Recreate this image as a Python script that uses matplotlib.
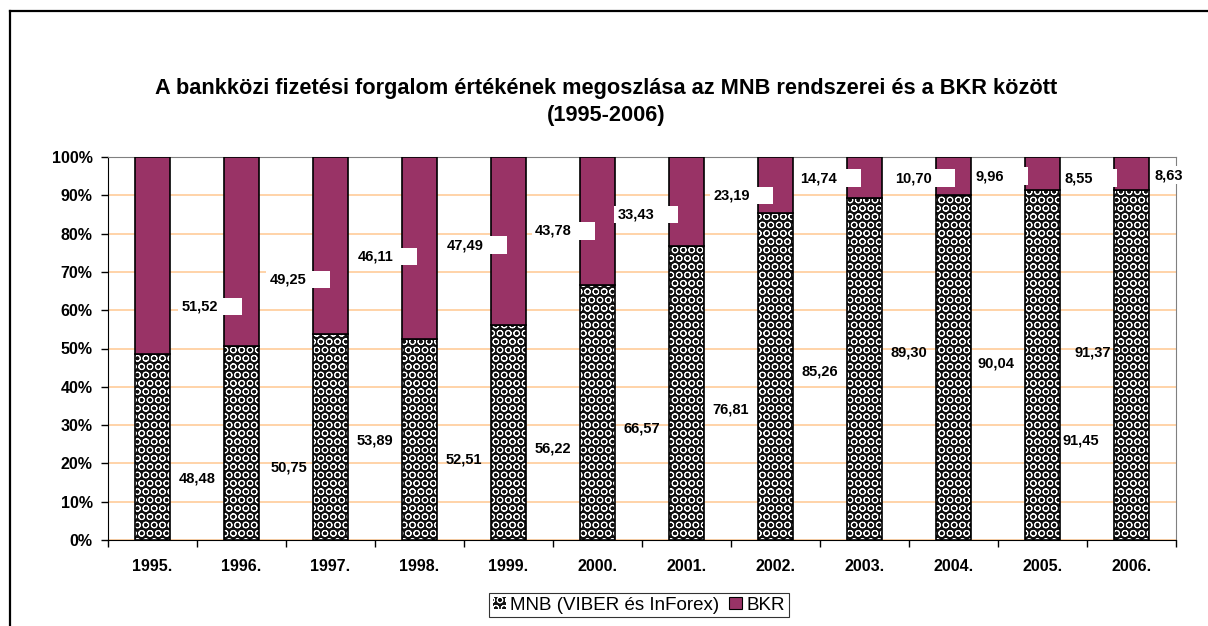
import matplotlib.pyplot as plt
from matplotlib.lines import Line2D
from matplotlib.path import Path

plt.rcParams['font.family'] = ['Liberation Sans', 'DejaVu Sans']
plt.rcParams['hatch.linewidth'] = 0.7

years = ['1995.', '1996.', '1997.', '1998.', '1999.', '2000.',
         '2001.', '2002.', '2003.', '2004.', '2005.', '2006.']
mnb = [48.48, 50.75, 53.89, 52.51, 56.22, 66.57, 76.81, 85.26, 89.30, 90.04, 91.45, 91.37]
bkr = [51.52, 49.25, 46.11, 47.49, 43.78, 33.43, 23.19, 14.74, 10.70, 9.96, 8.55, 8.63]

# where Excel left the data labels (x offset from bar centre, y in %)
mnb_lab_dx = [0.5, 0.53, 0.5, 0.5, 0.5, 0.5, 0.5, 0.5, 0.5, 0.48, 0.43, -0.43]
mnb_lab_y = [16, 19, 26, 21, 24, 29, 34, 44, 49, 46, 26, 49]
bkr_lab_dx = [0.33, 0.32, 0.31, 0.31, 0.30, 0.23, 0.30, 0.28, 0.34, 0.25, 0.25, 0.26]
bkr_lab_y = [61, 68, 74, 77, 80.7, 85, 90, 94.5, 94.5, 95, 94.5, 95.3]

maroon = '#993366'
ball = '#111111'
grid_col = '#FFCC99'


def label_box(x0, y0, width, height, mutation_size):
    # white box with extra room on the right, as Excel drew it
    p = 0.12 * mutation_size
    xa, xb = x0 - 2 * p, x0 + width + 1.6 * mutation_size
    ya, yb = y0 - p, y0 + height + p
    return Path([(xa, ya), (xb, ya), (xb, yb), (xa, yb), (xa, ya)], closed=True)


fig = plt.figure(figsize=(12.08, 6.26), dpi=100)
ax = fig.add_axes([108 / 1208, 86 / 626, 1068 / 1208, 383 / 626])

x = list(range(len(years)))
w = 0.4

# MNB: dark balls pattern, hatch first then the outline on top
ax.bar(x, mnb, w, color=ball, edgecolor='white', linewidth=0, hatch='OO', zorder=2)
ax.bar(x, mnb, w, facecolor='none', edgecolor='black', linewidth=1.2, zorder=3)
ax.bar(x, bkr, w, bottom=mnb, color=maroon, edgecolor='black', linewidth=1.2, zorder=3)

for i in x:
    t = f'{mnb[i]:.2f}'.replace('.', ',')
    ax.text(i + mnb_lab_dx[i], mnb_lab_y[i], t, ha='center', va='center',
            fontsize=10.5, fontweight='bold', zorder=5)
    t = f'{bkr[i]:.2f}'.replace('.', ',')
    ax.text(i + bkr_lab_dx[i], bkr_lab_y[i], t, ha='left', va='center',
            fontsize=10.5, fontweight='bold', zorder=6,
            bbox=dict(boxstyle=label_box, fc='white', ec='none'))

ax.set_xlim(-0.5, len(years) - 0.5)
ax.set_ylim(0, 100)
ax.set_yticks(range(0, 101, 10))
ax.set_yticklabels([f'{v}%' for v in range(0, 101, 10)], fontsize=11.5, fontweight='bold')
ax.set_xticks(x)
ax.set_xticklabels(years, fontsize=11.5, fontweight='bold')
ax.set_xticks([i - 0.5 for i in range(len(years) + 1)], minor=True)
ax.tick_params(axis='x', which='major', length=0, pad=14)
ax.tick_params(axis='x', which='minor', length=5, width=1, direction='out')
ax.tick_params(axis='y', length=5, width=1, direction='out', pad=6)

ax.yaxis.grid(True, color=grid_col, linewidth=1.2, zorder=0)
ax.set_axisbelow(True)
for s in ['top', 'right']:
    ax.spines[s].set_color('#808080')
ax.spines['left'].set_color('black')
ax.spines['bottom'].set_color('black')

fig.text(0.502, 0.859, 'A bankközi fizetési forgalom értékének megoszlása az MNB rendszerei és a BKR között',
         ha='center', va='center', fontsize=15.7, fontweight='bold')
fig.text(0.502, 0.815, '(1995-2006)', ha='center', va='center', fontsize=15.7, fontweight='bold')

handles = [plt.Rectangle((0, 0), 1, 1, facecolor=ball, edgecolor='white', hatch='OO', linewidth=0),
           plt.Rectangle((0, 0), 1, 1, facecolor=maroon, edgecolor='black', linewidth=0.8)]
leg = fig.legend(handles, ['MNB (VIBER és InForex)', 'BKR'], loc='center',
                 bbox_to_anchor=(639 / 1208, 21 / 626), ncol=2, fontsize=13.5,
                 frameon=True, fancybox=False, edgecolor='black', borderpad=0.2,
                 handlelength=0.7, handleheight=0.6, handletextpad=0.25,
                 columnspacing=0.5, borderaxespad=0)
leg.get_frame().set_linewidth(0.8)

# outer chart frame (left and top edges visible)
fx = 10 / 1208
fy = 1 - 11 / 626
fig.add_artist(Line2D([fx, fx], [0, fy], transform=fig.transFigure, color='black', lw=1.6))
fig.add_artist(Line2D([fx, 1], [fy, fy], transform=fig.transFigure, color='black', lw=1.6))

fig.savefig('out.png', dpi=100)
